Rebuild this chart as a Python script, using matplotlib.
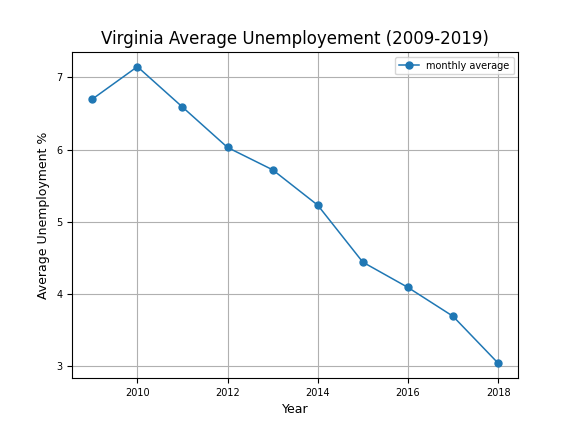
import matplotlib
matplotlib.use("Agg")
import matplotlib.pyplot as plt

years = [2009, 2010, 2011, 2012, 2013, 2014, 2015, 2016, 2017, 2018]
unemployment = [6.70, 7.15, 6.59, 6.03, 5.72, 5.23, 4.44, 4.09, 3.69, 3.04]

fig, ax = plt.subplots(figsize=(5.76, 4.32), dpi=100)
ax.plot(years, unemployment, marker='o', markersize=5, linewidth=1.1, label='monthly average')
ax.set_title('Virginia Average Unemployement (2009-2019)', fontsize=12)
ax.set_xlabel('Year', fontsize=9)
ax.set_ylabel('Average Unemployment %', fontsize=9)
ax.tick_params(labelsize=7)
ax.grid(True)
ax.legend(fontsize=7)
fig.subplots_adjust(left=0.125, right=0.9, top=0.88, bottom=0.125)
fig.savefig('out.png')
